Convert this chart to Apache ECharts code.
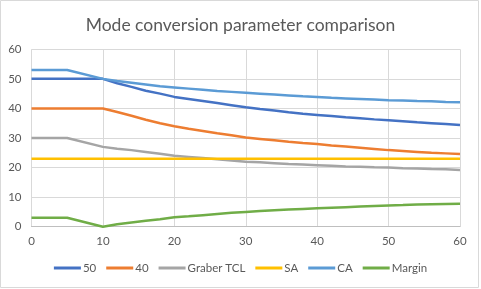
<!DOCTYPE html>
<html><head><meta charset="utf-8">
<script src="https://cdn.jsdelivr.net/npm/echarts@6/dist/echarts.min.js"></script>
<style>html,body{margin:0;padding:0;background:#fff}#c{width:481px;height:289px}</style>
</head><body><div id="c"></div>
<script>
var xs = [0,5,10,12,14,16,18,20,22,24,26,28,30,32,34,36,38,40,42,44,46,48,50,52,54,56,58,60];
var s50 = [50,50,50,48.5,47.3,46,45,43.9,43.2,42.5,41.8,41.1,40.4,39.8,39.3,38.7,38.2,37.8,37.4,37.0,36.7,36.3,36.0,35.7,35.3,35.0,34.7,34.4];
var s40 = [40,40,40,38.8,37.5,36.2,35,34,33.1,32.4,31.6,30.9,30.2,29.7,29.2,28.7,28.3,28.0,27.5,27.1,26.7,26.3,25.9,25.6,25.3,25.0,24.8,24.6];
var sGraber = [30,30,27,26.4,25.9,25.3,24.7,24,23.6,23.2,22.8,22.4,22.0,21.8,21.5,21.2,21.0,20.8,20.6,20.4,20.3,20.1,20.0,19.8,19.7,19.5,19.4,19.2];
var sSA = [23,23,23,23,23,23,23,23,23,23,23,23,23,23,23,23,23,23,23,23,23,23,23,23,23,23,23,23];
var sCA = [53,53,50,49.3,48.7,48.1,47.5,47.1,46.7,46.3,45.9,45.6,45.3,45.0,44.7,44.4,44.1,43.9,43.6,43.4,43.2,43.0,42.8,42.7,42.5,42.4,42.2,42.1];
var sMargin = [3,3,0,0.8,1.4,2.0,2.5,3.2,3.5,3.9,4.3,4.7,5.0,5.3,5.6,5.8,6.0,6.2,6.4,6.6,6.8,7.0,7.2,7.3,7.5,7.6,7.7,7.8];
var names = ['50','40','Graber TCL','SA','CA','Margin'];
var colors = ['#4472C4','#ED7D31','#A5A5A5','#FFC000','#5B9BD5','#70AD47'];
var values = [s50,s40,sGraber,sSA,sCA,sMargin];
var xTicks = [0,10,20,30,40,50,60];
var yTicks = [0,10,20,30,40,50,60];

function pairs(ys){ return xs.map(function(x,i){ return [x, ys[i]]; }); }
var series = names.map(function(n,i){
  return {name:n,type:'line',data:pairs(values[i]),showSymbol:false,symbol:'none',
    lineStyle:{color:colors[i],width:2.5},itemStyle:{color:colors[i]},animation:false};
});
var ch = echarts.init(document.getElementById('c'),null,{renderer:'canvas'});
var lab = {color:'#595959',fontSize:11.5,fontFamily:'Lato, sans-serif'};
ch.setOption({
  animation:false,
  title:{text:'Mode conversion parameter comparison',left:'center',top:11,
    textStyle:{color:'#595959',fontSize:17.5,fontWeight:'normal',fontFamily:'Lato, sans-serif'}},
  grid:{left:31.5,right:21,top:49.3,bottom:62.3},
  xAxis:{type:'value',min:xTicks[0],max:xTicks[xTicks.length-1],interval:10,
    axisLine:{show:true,lineStyle:{color:'#bfbfbf',width:1}},axisTick:{show:false},
    splitLine:{show:true,lineStyle:{color:'#d9d9d9',width:1}},
    axisLabel:Object.assign({margin:9},lab)},
  yAxis:{type:'value',min:yTicks[0],max:yTicks[yTicks.length-1],interval:10,
    axisLine:{show:false},axisTick:{show:false},
    splitLine:{show:true,lineStyle:{color:'#d9d9d9',width:1}},
    axisLabel:Object.assign({margin:10},lab)},
  legend:{bottom:10,left:'center',icon:'rect',itemWidth:27,itemHeight:3,itemGap:10,
    textStyle:{color:'#595959',fontSize:11.5,fontFamily:'Lato, sans-serif',padding:[0,0,0,-3]},data:names},
  graphic:[{type:'rect',shape:{x:0.5,y:0.5,width:478,height:287},
    style:{fill:'none',stroke:'#d9d9d9',lineWidth:1},silent:true}],
  series:series
});
</script></body></html>
